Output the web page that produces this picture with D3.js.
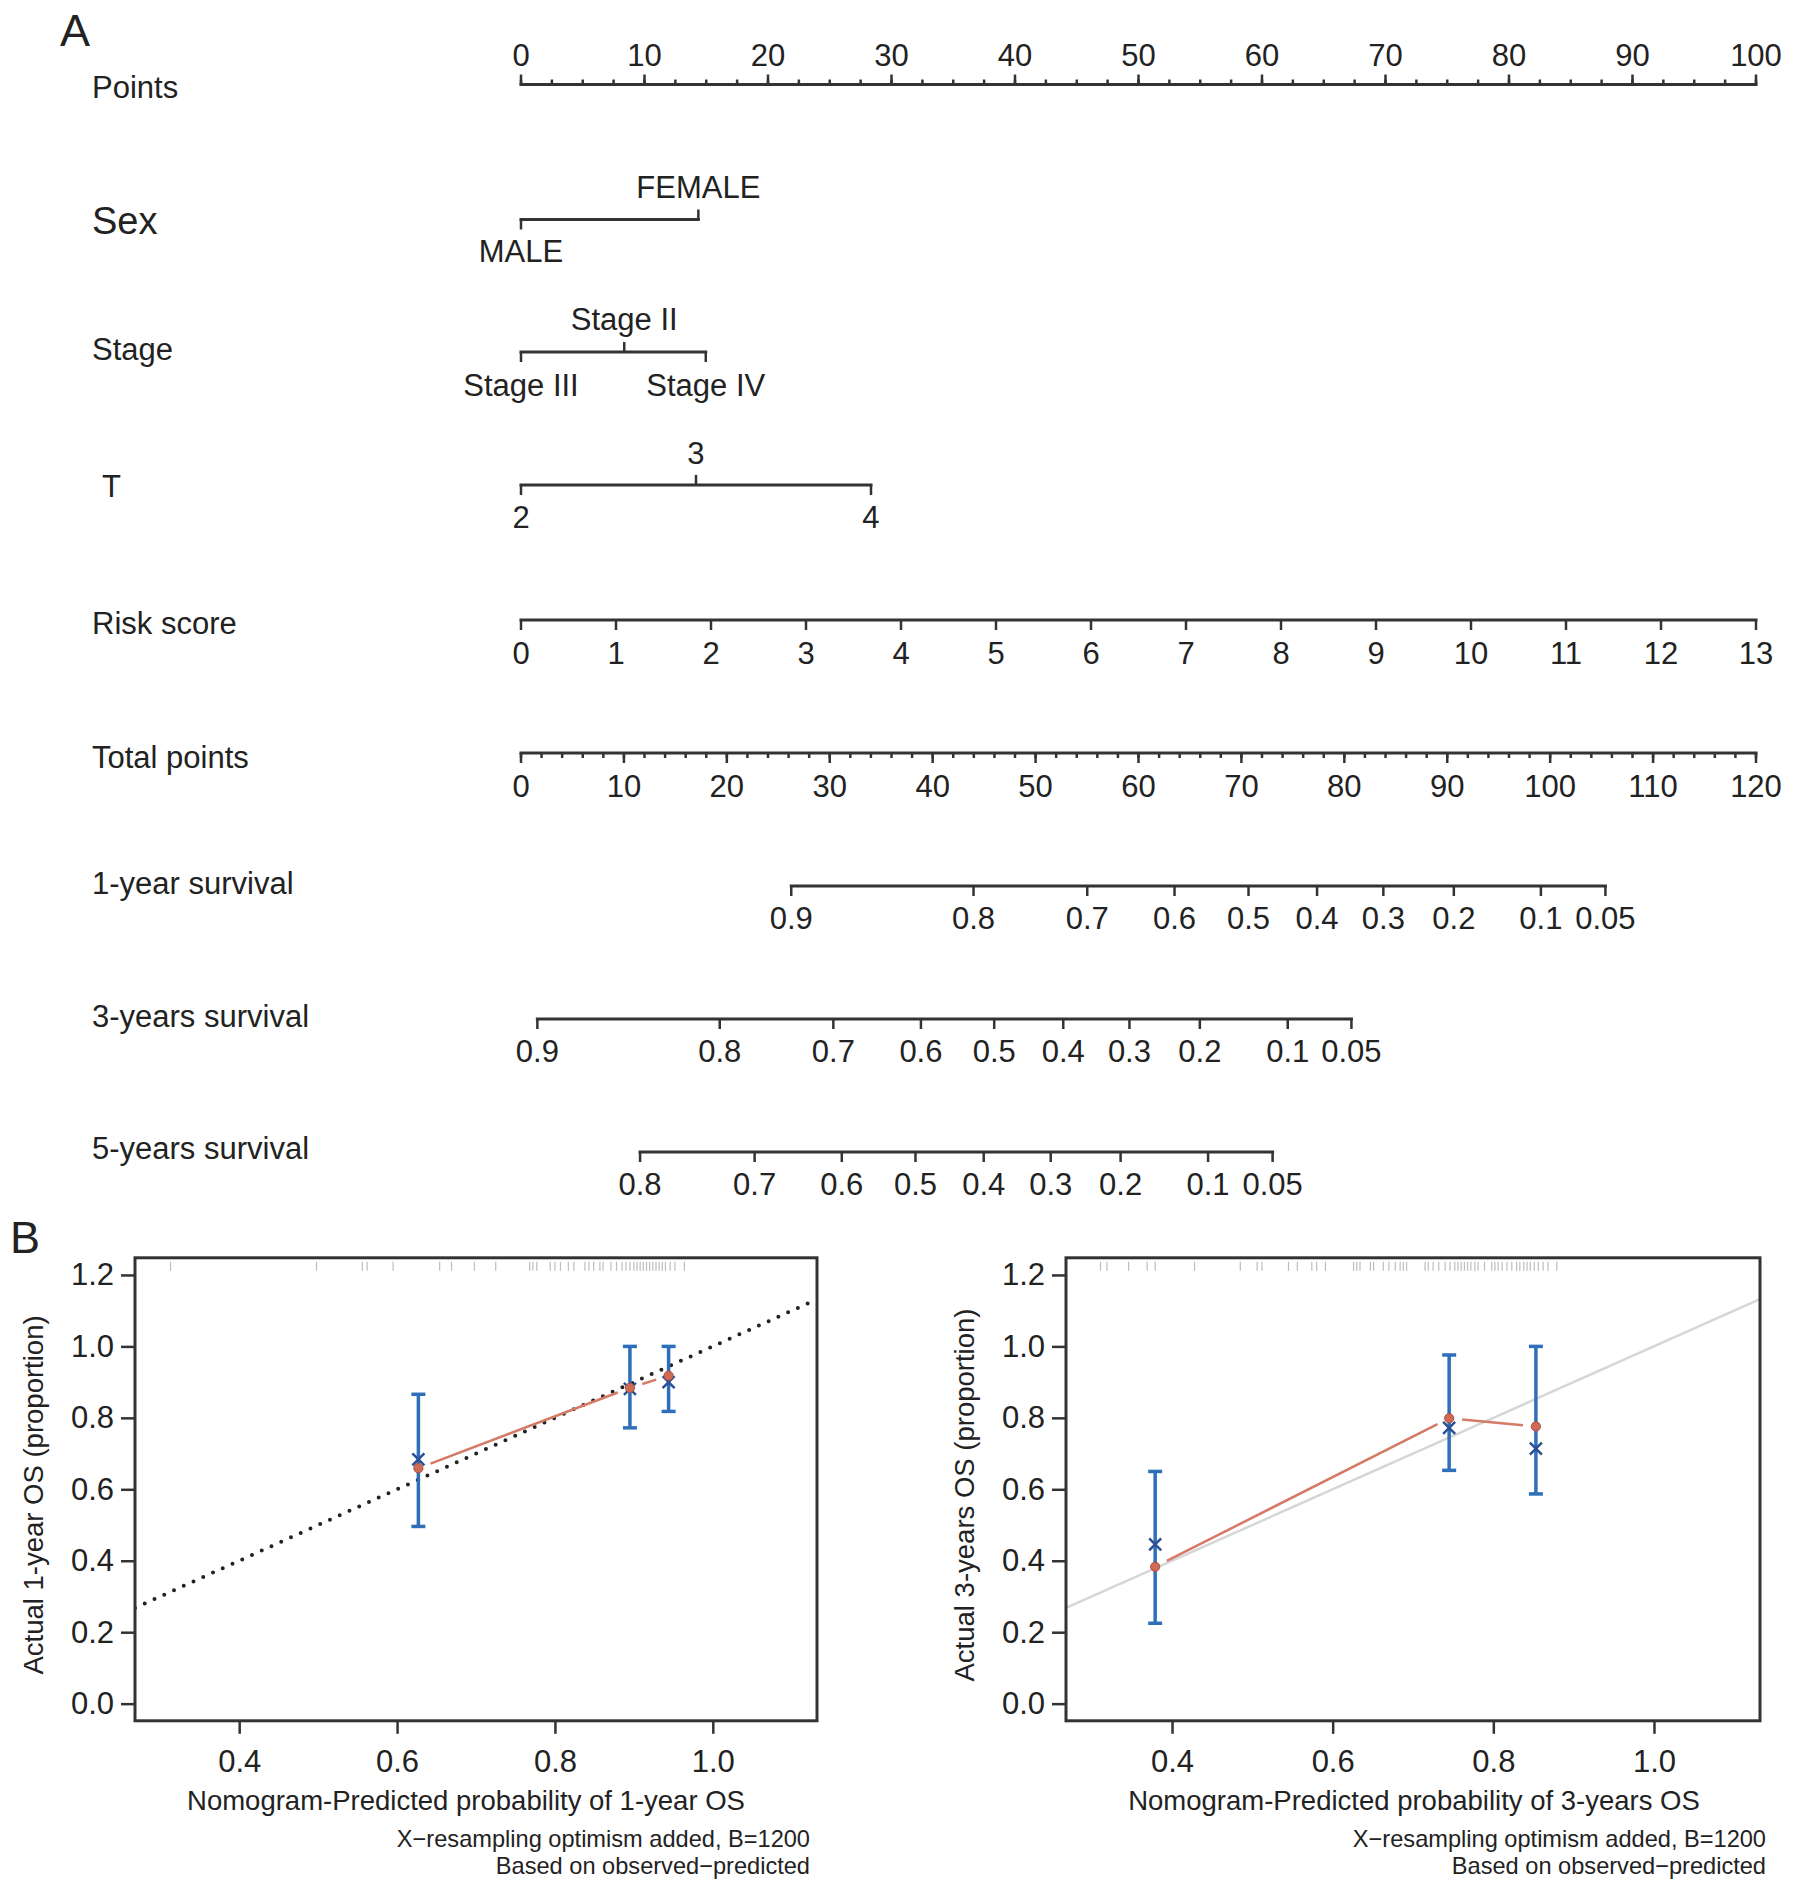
<!DOCTYPE html>
<html>
<head>
<meta charset="utf-8">
<script src="https://cdn.jsdelivr.net/npm/d3@7"></script>
<style>
  html, body { margin: 0; padding: 0; background: #fff; }
  svg { display: block; }
  text { font-family: "Liberation Sans", Arial, Helvetica, sans-serif; fill: #222; }
</style>
</head>
<body>
<svg id="chart" width="1795" height="1890"></svg>
<script>
// ---------------- DATA ----------------
// Nomogram: points axis
const pointsMajorTicks = [0, 10, 20, 30, 40, 50, 60, 70, 80, 90, 100];
const pointsMinorTicks = d3.range(0, 100.01, 2.5);

// Categorical predictors (level label, points, label side)
const sexLevels = ["MALE", "FEMALE"];
const sexPoints = [0, 14.36];
const sexSides = ["below", "above"];

const stageLevels = ["Stage III", "Stage II", "Stage IV"];
const stagePoints = [0, 8.36, 14.96];
const stageSides = ["below", "above", "below"];

const tLevels = ["2", "3", "4"];
const tPoints = [0, 14.17, 28.34];
const tSides = ["below", "above", "below"];

// Continuous predictor
const riskValues = [0, 1, 2, 3, 4, 5, 6, 7, 8, 9, 10, 11, 12, 13];
const riskRange = [0, 13];

// Total points axis
const totalMajorTicks = [0, 10, 20, 30, 40, 50, 60, 70, 80, 90, 100, 110, 120];
const totalMinorTicks = d3.range(0, 120.01, 2);

// Survival axes: label and position in total points
const surv1Labels = ["0.9", "0.8", "0.7", "0.6", "0.5", "0.4", "0.3", "0.2", "0.1", "0.05"];
const surv1Total  = [26.26, 43.97, 55.02, 63.50, 70.69, 77.35, 83.79, 90.64, 99.10, 105.37];
const surv3Labels = ["0.9", "0.8", "0.7", "0.6", "0.5", "0.4", "0.3", "0.2", "0.1", "0.05"];
const surv3Total  = [1.59, 19.31, 30.35, 38.86, 45.98, 52.69, 59.12, 65.96, 74.50, 80.69];
const surv5Labels = ["0.8", "0.7", "0.6", "0.5", "0.4", "0.3", "0.2", "0.1", "0.05"];
const surv5Total  = [11.57, 22.70, 31.17, 38.33, 44.96, 51.47, 58.26, 66.76, 73.03];

// Calibration 1-year
const cal1Pred = [0.627, 0.895, 0.944];
const cal1Obs  = [0.659, 0.884, 0.918];
const cal1Corr = [0.684, 0.881, 0.900];
const cal1Lo   = [0.496, 0.772, 0.818];
const cal1Hi   = [0.866, 1.000, 1.000];
const rug1 = [0.313, 0.498, 0.556, 0.562, 0.595, 0.654, 0.669, 0.698, 0.725, 0.768, 0.772, 0.777,
  0.794, 0.800, 0.807, 0.817, 0.824, 0.838, 0.843, 0.849, 0.857, 0.861, 0.871, 0.878, 0.885,
  0.890, 0.895, 0.900, 0.904, 0.908, 0.912, 0.916, 0.920, 0.924, 0.928, 0.932, 0.936, 0.940,
  0.946, 0.952, 0.964];

// Calibration 3-years
const cal3Pred = [0.379, 0.745, 0.853];
const cal3Obs  = [0.383, 0.799, 0.776];
const cal3Corr = [0.446, 0.772, 0.714];
const cal3Lo   = [0.225, 0.653, 0.587];
const cal3Hi   = [0.650, 0.976, 1.000];
const rug3 = [0.311, 0.319, 0.346, 0.369, 0.379, 0.428, 0.485, 0.506, 0.512, 0.545, 0.556, 0.574,
  0.580, 0.591, 0.626, 0.630, 0.634, 0.647, 0.651, 0.663, 0.670, 0.678, 0.684, 0.688, 0.692,
  0.715, 0.719, 0.725, 0.732, 0.740, 0.746, 0.752, 0.756, 0.760, 0.764, 0.768, 0.772, 0.777,
  0.781, 0.789, 0.798, 0.802, 0.806, 0.811, 0.817, 0.823, 0.829, 0.833, 0.838, 0.842, 0.846,
  0.851, 0.856, 0.862, 0.868, 0.879];

const calXTicks = [0.4, 0.6, 0.8, 1.0];
const calYTicks = [0.0, 0.2, 0.4, 0.6, 0.8, 1.0, 1.2];

// ---------------- DRAWING ----------------
const svg = d3.select("#chart");
const INK = "#333";
const FS = 31;

const xPts = d3.scaleLinear().domain([0, 100]).range([521, 1756]);
const xTot = d3.scaleLinear().domain([0, 120]).range([521, 1756]);
const riskToPts = d3.scaleLinear().domain(riskRange).range([0, 100]);

function hline(g, x1, x2, y) {
  g.append("line").attr("x1", x1).attr("x2", x2).attr("y1", y).attr("y2", y)
    .attr("stroke", INK).attr("stroke-width", 3).attr("stroke-linecap", "square");
}
function vtick(g, x, y, len) {
  g.append("line").attr("x1", x).attr("x2", x).attr("y1", y).attr("y2", y + len)
    .attr("stroke", INK).attr("stroke-width", 2.5);
}
function label(g, x, y, txt, anchor, size) {
  return g.append("text").attr("x", x).attr("y", y).attr("text-anchor", anchor || "middle")
    .attr("font-size", size || FS).text(txt);
}

const nom = svg.append("g");

// Panel letters
label(svg, 60, 46, "A", "start", 45);
label(svg, 10, 1253, "B", "start", 45);

// Points row
const yPoints = 84.5;
label(nom, 92, 98, "Points", "start");
hline(nom, xPts(0), xPts(100), yPoints);
pointsMinorTicks.forEach(v => vtick(nom, xPts(v), yPoints, -5));
pointsMajorTicks.forEach(v => {
  vtick(nom, xPts(v), yPoints, -10);
  label(nom, xPts(v), 66, String(v));
});

// Categorical rows
function catRow(levels, pts, sides, y, name, nameX, nameY, nameSize, aboveBase, belowBase) {
  label(nom, nameX, nameY, name, "start", nameSize);
  hline(nom, xPts(d3.min(pts)), xPts(d3.max(pts)), y);
  levels.forEach((lv, i) => {
    const x = xPts(pts[i]);
    const up = sides[i] === "above";
    vtick(nom, x, y, up ? -10 : 10);
    label(nom, x, up ? y + aboveBase : y + belowBase, lv);
  });
}
catRow(sexLevels, sexPoints, sexSides, 219.5, "Sex", 92, 234, 38, -22, 42);
catRow(stageLevels, stagePoints, stageSides, 352, "Stage", 92, 360, FS, -22, 44);
catRow(tLevels, tPoints, tSides, 485, "T", 102, 497, FS, -21, 43);

// Risk score
const yRisk = 620;
label(nom, 92, 634, "Risk score", "start");
hline(nom, xPts(riskToPts(riskRange[0])), xPts(riskToPts(riskRange[1])), yRisk);
riskValues.forEach(v => {
  const x = xPts(riskToPts(v));
  vtick(nom, x, yRisk, 10);
  label(nom, x, yRisk + 44, String(v));
});

// Total points
const yTotal = 753;
label(nom, 92, 768, "Total points", "start");
hline(nom, xTot(0), xTot(120), yTotal);
totalMinorTicks.forEach(v => vtick(nom, xTot(v), yTotal, 5));
totalMajorTicks.forEach(v => {
  vtick(nom, xTot(v), yTotal, 10);
  label(nom, xTot(v), yTotal + 44, String(v));
});

// Survival rows
function survRow(labels, tot, y, name, nameY) {
  label(nom, 92, nameY, name, "start");
  hline(nom, xTot(d3.min(tot)), xTot(d3.max(tot)), y);
  labels.forEach((lb, i) => {
    const x = xTot(tot[i]);
    vtick(nom, x, y, 10);
    label(nom, x, y + 43, lb);
  });
}
survRow(surv1Labels, surv1Total, 886, "1-year survival", 894);
survRow(surv3Labels, surv3Total, 1019, "3-years survival", 1027);
survRow(surv5Labels, surv5Total, 1152, "5-years survival", 1159);

// ---------------- CALIBRATION PLOTS ----------------
function calPlot(opt) {
  const g = svg.append("g");
  const x = d3.scaleLinear().domain([0.268, 1.132]).range([opt.left, opt.right]);
  const y = d3.scaleLinear().domain([-0.048, 1.248]).range([1720.8, 1257.8]);
  const [x0, x1] = x.range();
  const [yb, yt] = y.range();

  const clipId = "clip" + opt.id;
  g.append("clipPath").attr("id", clipId).append("rect")
    .attr("x", x0).attr("y", yt).attr("width", x1 - x0).attr("height", yb - yt);

  // ideal line y = x
  const ideal = g.append("line")
    .attr("x1", x(0.268)).attr("y1", y(0.268)).attr("x2", x(1.132)).attr("y2", y(1.132))
    .attr("clip-path", `url(#${clipId})`);
  if (opt.dotted) {
    ideal.attr("stroke", "#222").attr("stroke-width", 4).attr("stroke-linecap", "round")
      .attr("stroke-dasharray", "0 10.7");
  } else {
    ideal.attr("stroke", "#d6d6d6").attr("stroke-width", 2.5);
  }

  // rug
  g.selectAll(".rug").data(opt.rug).enter().append("line")
    .attr("x1", d => x(d)).attr("x2", d => x(d)).attr("y1", yt + 4).attr("y2", yt + 13)
    .attr("stroke", "#bdbdbd").attr("stroke-width", 1.2);

  // observed line with gaps around points (type "b")
  const gap = 13;
  for (let i = 0; i < opt.pred.length - 1; i++) {
    const ax = x(opt.pred[i]), ay = y(opt.obs[i]);
    const bx = x(opt.pred[i + 1]), by = y(opt.obs[i + 1]);
    const L = Math.hypot(bx - ax, by - ay);
    if (L <= 2 * gap) continue;
    const ux = (bx - ax) / L, uy = (by - ay) / L;
    g.append("line")
      .attr("x1", ax + ux * gap).attr("y1", ay + uy * gap)
      .attr("x2", bx - ux * gap).attr("y2", by - uy * gap)
      .attr("stroke", "#d47a66").attr("stroke-width", 2.5);
  }

  // error bars
  opt.pred.forEach((p, i) => {
    const px = x(p);
    g.append("line").attr("x1", px).attr("x2", px).attr("y1", y(opt.lo[i])).attr("y2", y(opt.hi[i]))
      .attr("stroke", "#2f6fba").attr("stroke-width", 3.5);
    [opt.lo[i], opt.hi[i]].forEach(v => {
      g.append("line").attr("x1", px - 7).attr("x2", px + 7).attr("y1", y(v)).attr("y2", y(v))
        .attr("stroke", "#2f6fba").attr("stroke-width", 3.5);
    });
  });

  // bias-corrected x markers
  opt.pred.forEach((p, i) => {
    const px = x(p), py = y(opt.corr[i]), s = 6;
    g.append("path").attr("d", `M${px - s},${py - s}L${px + s},${py + s}M${px - s},${py + s}L${px + s},${py - s}`)
      .attr("stroke", "#2b4f94").attr("stroke-width", 2.5).attr("fill", "none");
  });

  // observed points
  g.selectAll(".obs").data(opt.pred).enter().append("circle")
    .attr("cx", d => x(d)).attr("cy", (d, i) => y(opt.obs[i])).attr("r", 4.6)
    .attr("fill", "#cf6a55").attr("stroke", "#b04e3f").attr("stroke-width", 1);

  // box
  g.append("rect").attr("x", x0).attr("y", yt).attr("width", x1 - x0).attr("height", yb - yt)
    .attr("fill", "none").attr("stroke", INK).attr("stroke-width", 3);

  // axes
  const xa = g.append("g").attr("transform", `translate(0,${yb})`)
    .call(d3.axisBottom(x).tickValues(calXTicks).tickFormat(d3.format(".1f")).tickSize(13).tickPadding(10));
  xa.select(".domain").remove();
  xa.selectAll("line").attr("stroke", INK).attr("stroke-width", 2.5);
  xa.selectAll("text").attr("font-size", FS).attr("fill", "#222")
    .attr("dy", null).attr("y", 51);

  const ya = g.append("g").attr("transform", `translate(${x0},0)`)
    .call(d3.axisLeft(y).tickValues(calYTicks).tickFormat(d3.format(".1f")).tickSize(14).tickPadding(7));
  ya.select(".domain").remove();
  ya.selectAll("line").attr("stroke", INK).attr("stroke-width", 2.5);
  ya.selectAll("text").attr("font-size", FS).attr("fill", "#222");

  // titles
  label(g, opt.xTitleX, 1810, opt.xTitle, "middle", 27.5);
  label(g, opt.subX, 1847, "X\u2212resampling optimism added, B=1200", "end", 23.6);
  label(g, opt.subX, 1874, "Based on observed\u2212predicted", "end", 23.6);
  g.append("text").attr("transform", `translate(${opt.yTitleX},1495) rotate(-90)`)
    .attr("text-anchor", "middle").attr("dominant-baseline", "central")
    .attr("font-size", 27.5).text(opt.yTitle);
}

calPlot({
  id: 1, left: 135, right: 817, dotted: true,
  pred: cal1Pred, obs: cal1Obs, corr: cal1Corr, lo: cal1Lo, hi: cal1Hi, rug: rug1,
  xTitle: "Nomogram-Predicted probability of 1-year OS", xTitleX: 466,
  yTitle: "Actual 1-year OS (proportion)", yTitleX: 33, subX: 810
});
calPlot({
  id: 3, left: 1066, right: 1760, dotted: false,
  pred: cal3Pred, obs: cal3Obs, corr: cal3Corr, lo: cal3Lo, hi: cal3Hi, rug: rug3,
  xTitle: "Nomogram-Predicted probability of 3-years OS", xTitleX: 1414,
  yTitle: "Actual 3-years OS (proportion)", yTitleX: 964, subX: 1766
});
</script>
</body>
</html>
